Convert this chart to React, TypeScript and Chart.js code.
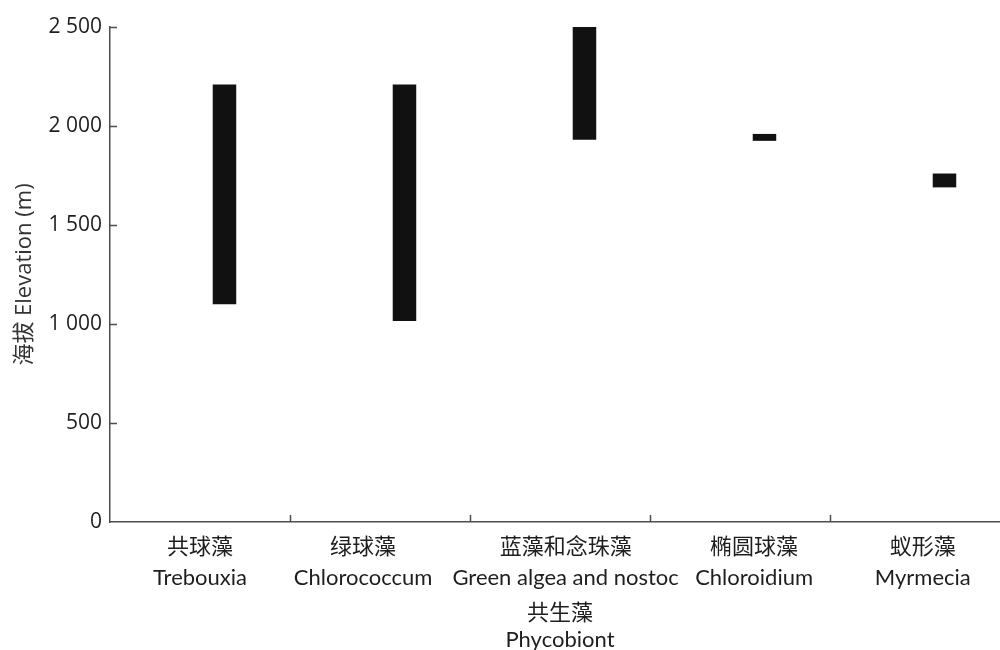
import React, { useEffect, useRef } from "react";
import { Chart, registerables } from "chart.js";

Chart.register(...registerables);

const categoriesZh: string[] = ["共球藻", "绿球藻", "蓝藻和念珠藻", "椭圆球藻", "蚁形藻"];
const categoriesEn: string[] = ["Trebouxia", "Chlorococcum", "Green algea and nostoc", "Chloroidium", "Myrmecia"];
const lowElevation: number[] = [1100, 1015, 1930, 1925, 1690];
const highElevation: number[] = [2210, 2210, 2500, 1960, 1760];
const yTicks: number[] = [0, 500, 1000, 1500, 2000, 2500];
const yTitle = "海拔 Elevation (m)";
const xTitle: string[] = ["共生藻", "Phycobiont"];

// label nudges (in space characters) to mimic the reference's label placement
const labelNudge: number[] = [0, -6, 2, 5, 1];
const nudge = (s: string, n: number) =>
  n > 0 ? " ".repeat(n) + s : n < 0 ? s + " ".repeat(-n) : s;

const FONT = '"Open Sans", "Noto Sans CJK SC", sans-serif';
const FONT_X = 'Lato, "Noto Sans CJK SC", sans-serif';
const AXIS = "#4d4d4d";
const TEXT = "#1e1e1e";

const fmt = (v: number) => String(v).replace(/\B(?=(\d{3})+(?!\d))/g, " ");

const innerTicks = {
  id: "innerTicks",
  afterDraw(chart: any) {
    const { ctx } = chart;
    const x = chart.scales.x;
    const y = chart.scales.y;
    ctx.save();
    ctx.strokeStyle = AXIS;
    ctx.lineWidth = 1.5;
    ctx.beginPath();
    yTicks.forEach((v) => {
      if (v === 0) return;
      const py = Math.round(y.getPixelForValue(v)) + 0.5;
      ctx.moveTo(x.left, py);
      ctx.lineTo(x.left + 7, py);
    });
    for (let i = 1; i <= categoriesZh.length; i++) {
      const px = Math.round(x.getPixelForValue(i - 0.5)) + 0.5;
      ctx.moveTo(px, y.bottom);
      ctx.lineTo(px, y.bottom - 7);
    }
    ctx.stroke();
    ctx.restore();
  },
};

export default function App() {
  const ref = useRef<HTMLCanvasElement | null>(null);
  useEffect(() => {
    if (!ref.current) return;
    const labels = categoriesZh.map((zh, i) => [
      nudge(zh, labelNudge[i]),
      nudge(categoriesEn[i], labelNudge[i]),
    ]);
    const chart = new Chart(ref.current, {
      type: "bar",
      data: {
        labels,
        datasets: [
          {
            label: "spacer",
            data: categoriesZh.map(() => null) as any,
            backgroundColor: "rgba(0,0,0,0)",
          },
          {
            label: "Elevation range",
            data: lowElevation.map((lo, i) => [lo, highElevation[i]]) as any,
            backgroundColor: "#111111",
            borderWidth: 0,
          },
        ],
      },
      options: {
        responsive: false,
        animation: false,
        devicePixelRatio: 1,
        categoryPercentage: 0.544,
        barPercentage: 0.48,
        layout: { padding: { top: 27, right: 2, bottom: 0, left: 0 } },
        plugins: {
          legend: { display: false },
          tooltip: { enabled: false },
          title: { display: false },
        },
        scales: {
          x: {
            grid: { display: false, drawTicks: false },
            border: { display: true, color: AXIS, width: 1.5 },
            ticks: {
              color: TEXT,
              padding: 10,
              maxRotation: 0,
              autoSkip: false,
              font: { family: FONT_X, size: 22, lineHeight: 1.4 },
            },
            title: {
              display: true,
              text: xTitle,
              color: TEXT,
              padding: { top: 0, bottom: 16 },
              font: { family: FONT_X, size: 22, lineHeight: 1.25 },
            },
            afterFit(scale: any) {
              scale.height = 148;
            },
          },
          y: {
            min: 0,
            max: 2500,
            grid: { display: false, drawTicks: false },
            border: { display: true, color: AXIS, width: 1.5 },
            ticks: {
              stepSize: 500,
              color: TEXT,
              padding: 8,
              font: { family: FONT, size: 21 },
              callback: (v: any) => fmt(Number(v)),
            },
            afterBuildTicks(scale: any) {
              scale.ticks = yTicks.map((v) => ({ value: v }));
            },
            title: {
              display: true,
              text: yTitle,
              color: "#333333",
              padding: { top: 12, bottom: 0 },
              font: { family: FONT, size: 22, lineHeight: 1.2 },
            },
            afterFit(scale: any) {
              scale.width = 110;
            },
          },
        },
      },
      plugins: [innerTicks],
    });
    return () => chart.destroy();
  }, []);

  return (
    <div
      style={{
        position: "fixed",
        left: 0,
        top: 0,
        width: 1000,
        height: 650,
        overflow: "hidden",
        background: "#ffffff",
      }}
    >
      <canvas ref={ref} width={1012} height={670} style={{ display: "block" }} />
    </div>
  );
}
